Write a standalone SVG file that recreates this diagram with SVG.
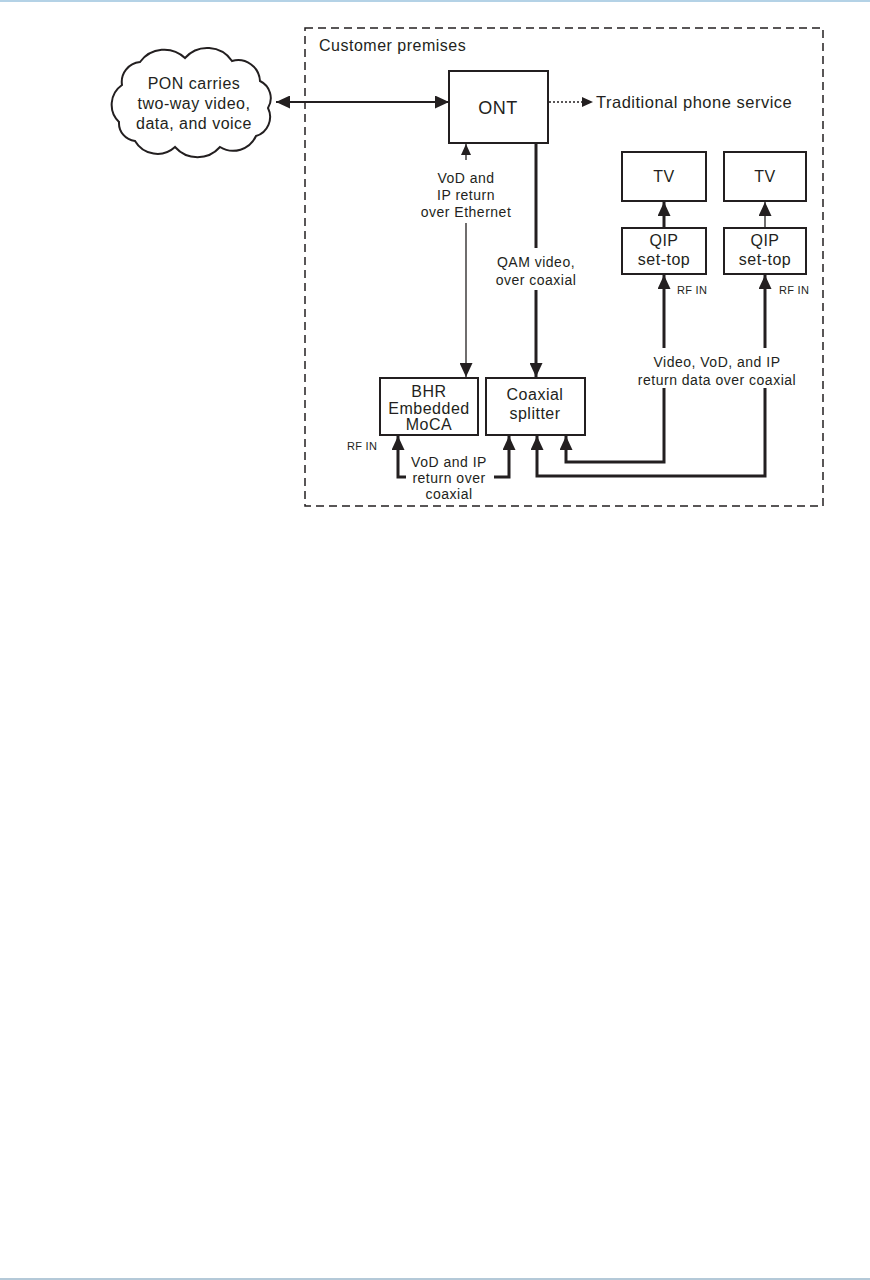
<svg xmlns="http://www.w3.org/2000/svg" width="870" height="1280" viewBox="0 0 870 1280">
<defs>
<style>
text{font-family:"Liberation Sans",Arial,sans-serif;fill:#231f20}
.lb{font-size:16px;letter-spacing:0.5px;text-anchor:middle}
.cl{font-size:14px;letter-spacing:0.5px;text-anchor:middle}
.rf{font-size:11px;letter-spacing:0.3px}
.box{fill:#fff;stroke:#231f20;stroke-width:2}
.thick{fill:none;stroke:#231f20;stroke-width:3}
.thin{fill:none;stroke:#231f20;stroke-width:1.3}
</style>
<marker id="ah" markerUnits="userSpaceOnUse" markerWidth="15" markerHeight="13" refX="14" refY="6.5" orient="auto-start-reverse"><path d="M0,0 L14,6.5 L0,13 z" fill="#231f20"/></marker>
<marker id="at" markerUnits="userSpaceOnUse" markerWidth="12" markerHeight="10" refX="11" refY="5" orient="auto-start-reverse"><path d="M0,0 L11,5 L0,10 z" fill="#231f20"/></marker>
</defs>
<rect x="0" y="0" width="870" height="2" fill="#b4d2e6"/>
<rect x="0" y="1278" width="870" height="2" fill="#b4c9d8"/>
<g id="premises">
<rect x="305" y="28" width="518" height="478" fill="none" stroke="#231f20" stroke-width="1.5" stroke-dasharray="8,5"/>
<text x="319" y="51" style="font-size:16px;letter-spacing:0.5px">Customer premises</text>
</g>
<g id="pon">
<path d="M122,85 A20,20 0 0 1 140,62 A30,30 0 0 1 185,58 A30,30 0 0 1 232,61 A22,22 0 0 1 260,81 A19,19 0 0 1 268,108 A20,20 0 0 1 256,136 A25,25 0 0 1 220,147 A30,30 0 0 1 175,147 A26,26 0 0 1 135,141 A18,18 0 0 1 119,122 A24,24 0 0 1 122,85 Z" fill="#fff" stroke="#231f20" stroke-width="2"/>
<text class="lb" x="194" y="89">PON carries</text>
<text class="lb" x="194" y="109">two-way video,</text>
<text class="lb" x="194" y="129">data, and voice</text>
</g>
<g id="ont">
<rect class="box" x="449" y="71" width="99" height="72"/>
<text x="498" y="114" style="font-size:18px;letter-spacing:0.5px;text-anchor:middle">ONT</text>
</g>
<g id="phone">
<text x="596" y="108" style="font-size:16.5px;letter-spacing:0.5px">Traditional phone service</text>
</g>
<g id="bhr">
<rect class="box" x="380" y="378" width="98" height="57"/>
<text class="lb" x="429" y="397">BHR</text>
<text class="lb" x="429" y="414">Embedded</text>
<text class="lb" x="429" y="430">MoCA</text>
<text class="rf" x="347" y="450">RF IN</text>
</g>
<g id="splitter">
<rect class="box" x="486" y="378" width="99" height="57"/>
<text class="lb" x="535" y="400">Coaxial</text>
<text class="lb" x="535" y="419">splitter</text>
</g>
<g id="tv1">
<rect class="box" x="622" y="152" width="84" height="49"/>
<text class="lb" x="664" y="182">TV</text>
</g>
<g id="tv2">
<rect class="box" x="724" y="152" width="82" height="49"/>
<text class="lb" x="765" y="182">TV</text>
</g>
<g id="qip1">
<rect class="box" x="622" y="228" width="84" height="46"/>
<text class="lb" x="664" y="246">QIP</text>
<text class="lb" x="664" y="265">set-top</text>
<text class="rf" x="677" y="294">RF IN</text>
</g>
<g id="qip2">
<rect class="box" x="724" y="228" width="82" height="46"/>
<text class="lb" x="765" y="246">QIP</text>
<text class="lb" x="765" y="265">set-top</text>
<text class="rf" x="779" y="294">RF IN</text>
</g>
<g id="connectors">
<line x1="276" y1="102" x2="449" y2="102" stroke="#231f20" stroke-width="2.2" marker-start="url(#ah)" marker-end="url(#ah)"/>
<line x1="549" y1="102" x2="593" y2="102" stroke="#231f20" stroke-width="1.3" stroke-dasharray="2,2" marker-end="url(#at)"/>
<line class="thin" x1="466" y1="160" x2="466" y2="144" marker-end="url(#at)"/>
<line class="thin" x1="466" y1="223" x2="466" y2="377" marker-end="url(#ah)"/>
<text class="cl" x="466" y="183">VoD and</text>
<text class="cl" x="466" y="200">IP return</text>
<text class="cl" x="466" y="217">over Ethernet</text>
<line class="thick" x1="536" y1="143" x2="536" y2="248"/>
<line class="thick" x1="536" y1="290" x2="536" y2="377" marker-end="url(#ah)"/>
<text class="cl" x="536" y="267">QAM video,</text>
<text class="cl" x="536" y="285">over coaxial</text>
<line class="thick" x1="664" y1="228" x2="664" y2="202" marker-end="url(#ah)"/>
<line class="thin" x1="765" y1="228" x2="765" y2="202" marker-end="url(#ah)"/>
<polyline class="thick" points="664,348 664,275" marker-end="url(#ah)"/>
<polyline class="thick" points="765,348 765,275" marker-end="url(#ah)"/>
<polyline class="thick" points="664,388 664,462 566,462 566,436" marker-end="url(#ah)"/>
<polyline class="thick" points="765,388 765,476 537,476 537,436" marker-end="url(#ah)"/>
<text class="cl" x="717" y="367">Video, VoD, and IP</text>
<text class="cl" x="717" y="385">return data over coaxial</text>
<polyline class="thick" points="406,477 398,477 398,436" marker-end="url(#ah)"/>
<polyline class="thick" points="494,477 509,477 509,436" marker-end="url(#ah)"/>
<text class="cl" x="449" y="467">VoD and IP</text>
<text class="cl" x="449" y="483">return over</text>
<text class="cl" x="449" y="499">coaxial</text>
</g>
</svg>
